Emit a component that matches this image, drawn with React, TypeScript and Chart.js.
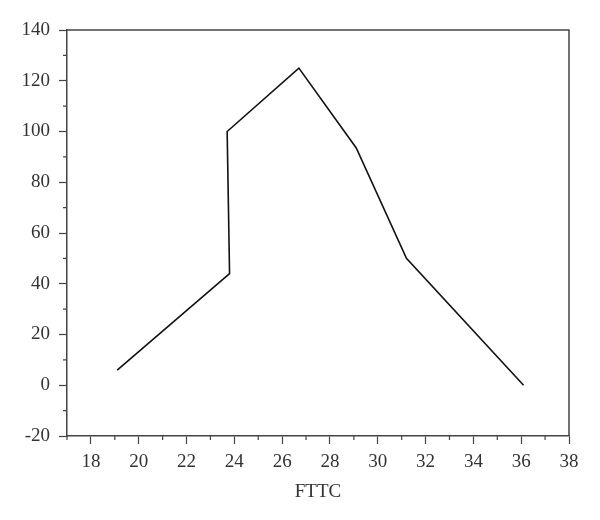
import React, { useEffect, useRef } from "react";
import { Chart, registerables } from "chart.js";

Chart.register(...registerables);

const xValues = [19.1, 23.8, 23.7, 26.7, 29.1, 31.2, 36.1];
const yValues = [6, 44, 100, 125, 93.5, 50, 0];
const xTicks = [18, 20, 22, 24, 26, 28, 30, 32, 34, 36, 38];
const yTicks = [-20, 0, 20, 40, 60, 80, 100, 120, 140];
const xMinorTicks = [17, 19, 21, 23, 25, 27, 29, 31, 33, 35, 37];
const yMinorTicks = [-10, 10, 30, 50, 70, 90, 110, 130];
const xTitle = "FTTC";

const FONT = "'Liberation Serif', 'Times New Roman', serif";

const frameAndMinor = {
  id: "frameAndMinor",
  afterDraw(chart: any) {
    const { ctx, chartArea } = chart;
    const xs = chart.scales.x;
    const ys = chart.scales.y;
    ctx.save();
    ctx.strokeStyle = "#444";
    ctx.lineWidth = 1.5;
    ctx.beginPath();
    ctx.moveTo(chartArea.left, chartArea.top);
    ctx.lineTo(chartArea.right, chartArea.top);
    ctx.lineTo(chartArea.right, chartArea.bottom);
    ctx.stroke();
    ctx.lineWidth = 1.2;
    ctx.beginPath();
    for (const v of xMinorTicks) {
      const px = xs.getPixelForValue(v);
      ctx.moveTo(px, chartArea.bottom);
      ctx.lineTo(px, chartArea.bottom + 4);
    }
    for (const v of yMinorTicks) {
      const py = ys.getPixelForValue(v);
      ctx.moveTo(chartArea.left, py);
      ctx.lineTo(chartArea.left - 4, py);
    }
    ctx.stroke();
    ctx.restore();
  },
};

export default function App() {
  const ref = useRef<HTMLCanvasElement | null>(null);
  useEffect(() => {
    if (!ref.current) return;
    const chart = new Chart(ref.current, {
      type: "line",
      data: {
        datasets: [
          {
            data: xValues.map((x, i) => ({ x, y: yValues[i] })),
            borderColor: "#111",
            borderWidth: 1.6,
            pointRadius: 0,
            fill: false,
            tension: 0,
          },
        ],
      },
      options: {
        animation: false,
        responsive: false,
        maintainAspectRatio: false,
        layout: { padding: { left: 0, right: 31, top: 30, bottom: 17 } },
        plugins: { legend: { display: false }, tooltip: { enabled: false } },
        scales: {
          x: {
            type: "linear",
            min: 17,
            max: 38,
            afterBuildTicks: (s: any) => {
              s.ticks = xTicks.map((v) => ({ value: v }));
            },
            afterFit: (s: any) => {
              s.height = 67;
            },
            ticks: {
              autoSkip: false,
              maxRotation: 0,
              color: "#333",
              padding: 7,
              font: { family: FONT, size: 19 },
            },
            grid: {
              drawOnChartArea: false,
              drawTicks: true,
              tickLength: 8,
              tickColor: "#444",
              tickWidth: 1.2,
            },
            border: { display: true, color: "#444", width: 1.5 },
            title: {
              display: true,
              text: xTitle,
              color: "#333",
              font: { family: FONT, size: 19 },
              padding: { top: 2, bottom: 0 },
            },
          },
          y: {
            type: "linear",
            min: -20,
            max: 140,
            afterBuildTicks: (s: any) => {
              s.ticks = yTicks.map((v) => ({ value: v }));
            },
            afterFit: (s: any) => {
              s.width = 67;
            },
            ticks: {
              color: "#333",
              padding: 9,
              font: { family: FONT, size: 19 },
            },
            grid: {
              drawOnChartArea: false,
              drawTicks: true,
              tickLength: 8,
              tickColor: "#444",
              tickWidth: 1.2,
            },
            border: { display: true, color: "#444", width: 1.5 },
          },
        },
      },
      plugins: [frameAndMinor],
    });
    return () => chart.destroy();
  }, []);
  return (
    <div style={{ position: "fixed", left: 0, top: 0, width: 600, height: 520, background: "#fff" }}>
      <canvas ref={ref} width={600} height={520} style={{ width: 600, height: 520 }} />
    </div>
  );
}
